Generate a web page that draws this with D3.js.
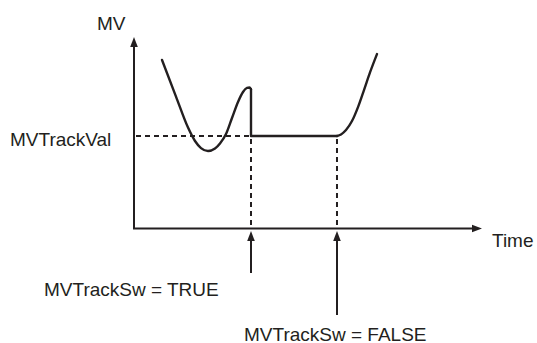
<!DOCTYPE html>
<html>
<head>
<meta charset="utf-8">
<script src="https://cdn.jsdelivr.net/npm/d3@7"></script>
<style>
  html, body { margin: 0; padding: 0; background: #fff; }
  svg text { font-family: "Liberation Sans", Arial, Helvetica, sans-serif; fill: #231f20; }
</style>
</head>
<body>
<svg id="chart" width="537" height="343"></svg>
<script>
// Manipulated value before tracking starts: falls, dips, climbs toward a peak
const mvBefore = [
  [8.05, 88.0], [12.07, 68.9], [15.52, 52.7], [17.53, 45.7], [19.25, 42.0],
  [21.26, 40.5], [23.28, 41.8], [24.71, 44.4], [26.44, 49.3], [28.16, 57.7],
  [29.89, 66.1], [31.32, 71.3], [32.47, 73.4], [33.19, 73.6], [33.62, 72.8]
];
// After tracking ends: MV leaves the held value and rises
const mvAfter = [
  [58.33, 48.3], [59.48, 49.1], [60.92, 51.4], [62.64, 56.1], [64.37, 63.4],
  [66.09, 72.3], [67.82, 81.5], [69.83, 91.1]
];
// Switch events on the time axis
const swTrueTime = 33.62;
const swFalseTime = 58.33;
// Value held while tracking
const trackVal = 48.3;
// Texts
const axisLabels = { y: "MV", x: "Time" };
const trackValLabel = "MVTrackVal";
const eventLabels = ["MVTrackSw = TRUE", "MVTrackSw = FALSE"];

const ink = "#231f20";
const svg = d3.select("#chart");

const x = d3.scaleLinear().domain([0, 100]).range([134, 482]);
const y = d3.scaleLinear().domain([0, 100]).range([228.5, 37]);

// Axes
svg.append("line")
  .attr("x1", x(0)).attr("y1", y(0)).attr("x2", x(0)).attr("y2", y(100) + 8)
  .attr("stroke", ink).attr("stroke-width", 2);
svg.append("line")
  .attr("x1", x(0) - 1).attr("y1", y(0)).attr("x2", x(100) - 8).attr("y2", y(0))
  .attr("stroke", ink).attr("stroke-width", 2);

function arrowHead(tx, ty, dir, len = 10, half = 3.8) {
  // dir: "up" or "right"
  let pts;
  if (dir === "up") pts = [[tx, ty], [tx - half, ty + len], [tx + half, ty + len]];
  else pts = [[tx, ty], [tx - len, ty - half], [tx - len, ty + half]];
  svg.append("path").attr("d", "M" + pts.map(p => p.join(",")).join("L") + "Z")
    .attr("fill", ink);
}
arrowHead(x(0), y(100), "up");
arrowHead(x(100), y(0), "right");

// Dashed guides
const dash = "5,4";
svg.append("line")
  .attr("x1", x(0) + 2).attr("y1", y(trackVal)).attr("x2", x(swTrueTime)).attr("y2", y(trackVal))
  .attr("stroke", ink).attr("stroke-width", 2).attr("stroke-dasharray", dash);
[swTrueTime, swFalseTime].forEach(t => {
  svg.append("line")
    .attr("x1", x(t)).attr("y1", y(trackVal) + 3).attr("x2", x(t)).attr("y2", y(0) - 1)
    .attr("stroke", ink).attr("stroke-width", 2).attr("stroke-dasharray", dash);
});

// MV curve
const smooth = d3.line().x(d => x(d[0])).y(d => y(d[1])).curve(d3.curveMonotoneX);
const straight = d3.line().x(d => x(d[0])).y(d => y(d[1]));
const curveStyle = sel => sel.attr("fill", "none").attr("stroke", ink)
  .attr("stroke-width", 2.4).attr("stroke-linecap", "round").attr("stroke-linejoin", "round");

svg.append("path").attr("d", smooth(mvBefore)).call(curveStyle);
const last = mvBefore[mvBefore.length - 1];
svg.append("path")
  .attr("d", straight([last, [swTrueTime, trackVal], [swFalseTime, trackVal]]))
  .call(curveStyle);
svg.append("path").attr("d", smooth(mvAfter)).call(curveStyle);

// Event arrows under the time axis
const eventArrowEnds = [273, 315];
[swTrueTime, swFalseTime].forEach((t, i) => {
  svg.append("line")
    .attr("x1", x(t)).attr("y1", eventArrowEnds[i]).attr("x2", x(t)).attr("y2", y(0) + 10)
    .attr("stroke", ink).attr("stroke-width", 2);
  arrowHead(x(t), y(0) + 2.5, "up", 10, 3.8);
});

// Labels
const fs = "19px";
svg.append("text").attr("x", 97).attr("y", 29.5).attr("font-size", fs).text(axisLabels.y);
svg.append("text").attr("x", 492).attr("y", 247).attr("font-size", fs).text(axisLabels.x);
svg.append("text").attr("x", 10).attr("y", 146).attr("font-size", fs).text(trackValLabel);
svg.append("text").attr("x", 44).attr("y", 296).attr("font-size", fs).text(eventLabels[0]);
svg.append("text").attr("x", 244).attr("y", 340.5).attr("font-size", fs).text(eventLabels[1]);
</script>
</body>
</html>
